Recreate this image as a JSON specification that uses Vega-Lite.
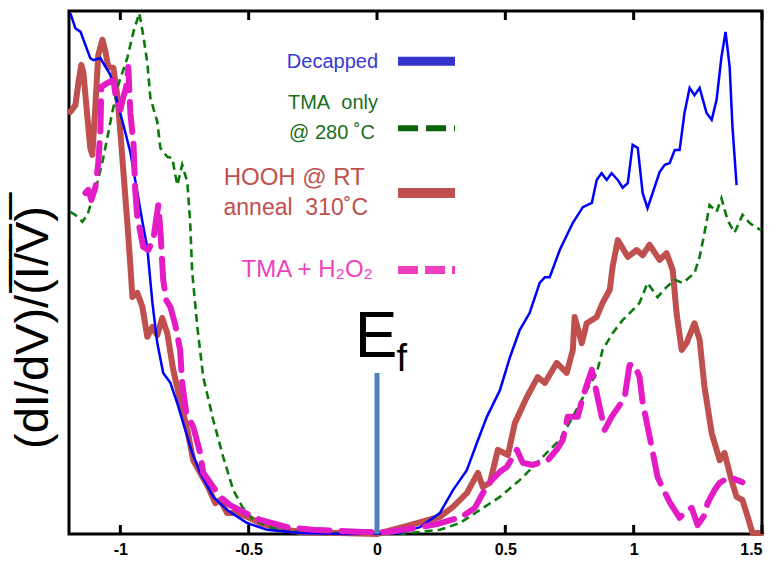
{
  "$schema": "https://vega.github.io/schema/vega-lite/v6.json",
  "width": 693,
  "height": 523,
  "autosize": {"type": "none"},
  "padding": {"left": 69, "top": 11, "right": 19, "bottom": 33},
  "background": "white",
  "config": {
    "view": {"stroke": "black", "strokeWidth": 3},
    "font": "Liberation Sans",
    "text": {"font": "Liberation Sans"}
  },
  "datasets": {
    "tickpos": [{"V": -1}, {"V": -0.5}, {"V": 0}, {"V": 0.5}, {"V": 1}, {"V": 1.5}],
    "decapped": [
      {"V": -1.195, "G": 99.6}, {"V": -1.175, "G": 96.7}, {"V": -1.155, "G": 96.0}, {"V": -1.117, "G": 91.0},
      {"V": -1.105, "G": 90.6}, {"V": -1.078, "G": 91.0}, {"V": -1.039, "G": 87.8}, {"V": -1.012, "G": 82.6},
      {"V": -0.988, "G": 78.2}, {"V": -0.961, "G": 73.0}, {"V": -0.934, "G": 65.4}, {"V": -0.914, "G": 59.7},
      {"V": -0.895, "G": 54.7}, {"V": -0.875, "G": 44.2}, {"V": -0.856, "G": 36.5}, {"V": -0.833, "G": 30.8},
      {"V": -0.805, "G": 28.9}, {"V": -0.778, "G": 25.0}, {"V": -0.755, "G": 21.2}, {"V": -0.72, "G": 15.5},
      {"V": -0.689, "G": 11.7}, {"V": -0.638, "G": 7.1}, {"V": -0.584, "G": 4.6}, {"V": -0.506, "G": 2.1},
      {"V": -0.428, "G": 0.8}, {"V": -0.3, "G": 0.2}, {"V": -0.105, "G": 0.0}, {"V": 0.089, "G": 0.2},
      {"V": 0.167, "G": 1.3}, {"V": 0.245, "G": 4.0}, {"V": 0.296, "G": 8.4}, {"V": 0.35, "G": 12.2},
      {"V": 0.389, "G": 17.4}, {"V": 0.428, "G": 22.4}, {"V": 0.479, "G": 27.5}, {"V": 0.518, "G": 33.8},
      {"V": 0.556, "G": 39.0}, {"V": 0.595, "G": 42.3}, {"V": 0.634, "G": 48.0}, {"V": 0.654, "G": 49.1},
      {"V": 0.673, "G": 49.1}, {"V": 0.712, "G": 54.3}, {"V": 0.763, "G": 59.5}, {"V": 0.802, "G": 62.5},
      {"V": 0.837, "G": 63.3}, {"V": 0.856, "G": 67.7}, {"V": 0.875, "G": 69.0}, {"V": 0.895, "G": 67.7},
      {"V": 0.914, "G": 69.0}, {"V": 0.938, "G": 67.7}, {"V": 0.957, "G": 66.2}, {"V": 0.977, "G": 67.1},
      {"V": 0.996, "G": 74.4}, {"V": 1.016, "G": 73.8}, {"V": 1.035, "G": 65.2}, {"V": 1.054, "G": 62.3},
      {"V": 1.074, "G": 65.2}, {"V": 1.101, "G": 69.2}, {"V": 1.121, "G": 70.6}, {"V": 1.14, "G": 70.9},
      {"V": 1.16, "G": 73.4}, {"V": 1.179, "G": 73.4}, {"V": 1.198, "G": 80.5}, {"V": 1.218, "G": 85.3},
      {"V": 1.237, "G": 83.9}, {"V": 1.257, "G": 85.3}, {"V": 1.284, "G": 80.5}, {"V": 1.304, "G": 79.2},
      {"V": 1.323, "G": 83.0}, {"V": 1.342, "G": 91.2}, {"V": 1.358, "G": 96.0}, {"V": 1.374, "G": 89.3},
      {"V": 1.385, "G": 77.8}, {"V": 1.401, "G": 66.7}
    ],
    "tma": [
      {"V": -1.195, "G": 61.6}, {"V": -1.175, "G": 61.0}, {"V": -1.148, "G": 59.7}, {"V": -1.128, "G": 61.0},
      {"V": -1.109, "G": 64.2}, {"V": -1.089, "G": 67.3}, {"V": -1.07, "G": 71.1}, {"V": -1.051, "G": 75.7},
      {"V": -1.031, "G": 80.7}, {"V": -1.008, "G": 85.9}, {"V": -0.973, "G": 91.0}, {"V": -0.949, "G": 96.0},
      {"V": -0.926, "G": 99.6}, {"V": -0.911, "G": 95.4}, {"V": -0.895, "G": 90.2}, {"V": -0.883, "G": 83.4},
      {"V": -0.856, "G": 78.8}, {"V": -0.844, "G": 73.8}, {"V": -0.817, "G": 72.1}, {"V": -0.798, "G": 71.9},
      {"V": -0.778, "G": 66.7}, {"V": -0.759, "G": 70.6}, {"V": -0.739, "G": 67.3}, {"V": -0.728, "G": 59.7},
      {"V": -0.72, "G": 50.1}, {"V": -0.7, "G": 39.6}, {"V": -0.677, "G": 30.0}, {"V": -0.638, "G": 21.8},
      {"V": -0.599, "G": 14.7}, {"V": -0.56, "G": 8.4}, {"V": -0.525, "G": 5.2}, {"V": -0.482, "G": 2.7},
      {"V": -0.405, "G": 1.1}, {"V": -0.222, "G": 0.2}, {"V": 0.089, "G": 0.0}, {"V": 0.245, "G": 0.8},
      {"V": 0.323, "G": 2.1}, {"V": 0.401, "G": 4.6}, {"V": 0.479, "G": 7.1}, {"V": 0.556, "G": 10.3},
      {"V": 0.607, "G": 12.8}, {"V": 0.661, "G": 15.5}, {"V": 0.712, "G": 18.0}, {"V": 0.763, "G": 22.4},
      {"V": 0.817, "G": 27.5}, {"V": 0.856, "G": 30.8}, {"V": 0.879, "G": 35.2}, {"V": 0.918, "G": 38.4},
      {"V": 0.957, "G": 40.9}, {"V": 0.996, "G": 42.8}, {"V": 1.023, "G": 44.2}, {"V": 1.054, "G": 48.0},
      {"V": 1.093, "G": 45.3}, {"V": 1.128, "G": 47.2}, {"V": 1.16, "G": 48.6}, {"V": 1.191, "G": 48.0},
      {"V": 1.237, "G": 49.9}, {"V": 1.257, "G": 53.0}, {"V": 1.276, "G": 57.6}, {"V": 1.296, "G": 62.9},
      {"V": 1.323, "G": 61.6}, {"V": 1.342, "G": 64.2}, {"V": 1.366, "G": 60.0}, {"V": 1.393, "G": 57.6},
      {"V": 1.424, "G": 61.0}, {"V": 1.451, "G": 59.5}, {"V": 1.479, "G": 58.5}, {"V": 1.498, "G": 58.1}
    ],
    "hooh": [
      {"V": -1.195, "G": 80.7}, {"V": -1.175, "G": 82.0}, {"V": -1.163, "G": 86.4}, {"V": -1.152, "G": 89.7},
      {"V": -1.144, "G": 88.3}, {"V": -1.128, "G": 79.5}, {"V": -1.117, "G": 73.8}, {"V": -1.109, "G": 72.5},
      {"V": -1.105, "G": 75.7}, {"V": -1.097, "G": 82.0}, {"V": -1.086, "G": 91.6}, {"V": -1.07, "G": 94.5},
      {"V": -1.058, "G": 92.2}, {"V": -1.047, "G": 89.3}, {"V": -1.027, "G": 89.1}, {"V": -1.012, "G": 83.9},
      {"V": -1.0, "G": 76.9}, {"V": -0.988, "G": 69.2}, {"V": -0.973, "G": 59.7}, {"V": -0.961, "G": 51.4},
      {"V": -0.953, "G": 45.3}, {"V": -0.934, "G": 46.1}, {"V": -0.914, "G": 43.4}, {"V": -0.895, "G": 37.7},
      {"V": -0.875, "G": 39.6}, {"V": -0.856, "G": 38.0}, {"V": -0.837, "G": 41.3}, {"V": -0.817, "G": 38.4},
      {"V": -0.794, "G": 31.4}, {"V": -0.767, "G": 25.6}, {"V": -0.739, "G": 19.9}, {"V": -0.716, "G": 14.1},
      {"V": -0.689, "G": 11.7}, {"V": -0.658, "G": 9.0}, {"V": -0.63, "G": 5.9}, {"V": -0.611, "G": 6.5},
      {"V": -0.584, "G": 4.0}, {"V": -0.545, "G": 4.0}, {"V": -0.506, "G": 3.3}, {"V": -0.455, "G": 2.1},
      {"V": -0.389, "G": 1.1}, {"V": -0.3, "G": 0.4}, {"V": 0.0, "G": 0.0}, {"V": 0.128, "G": 1.7},
      {"V": 0.245, "G": 3.3}, {"V": 0.296, "G": 5.2}, {"V": 0.35, "G": 7.8}, {"V": 0.393, "G": 11.7},
      {"V": 0.412, "G": 9.0}, {"V": 0.44, "G": 9.8}, {"V": 0.471, "G": 16.1}, {"V": 0.51, "G": 15.1},
      {"V": 0.537, "G": 21.2}, {"V": 0.584, "G": 26.2}, {"V": 0.626, "G": 30.0}, {"V": 0.654, "G": 28.9},
      {"V": 0.7, "G": 32.7}, {"V": 0.739, "G": 30.8}, {"V": 0.763, "G": 35.2}, {"V": 0.77, "G": 41.5},
      {"V": 0.798, "G": 36.5}, {"V": 0.817, "G": 40.3}, {"V": 0.856, "G": 41.5}, {"V": 0.879, "G": 44.2},
      {"V": 0.907, "G": 46.7}, {"V": 0.918, "G": 51.1}, {"V": 0.938, "G": 56.2}, {"V": 0.977, "G": 53.0},
      {"V": 1.012, "G": 54.3}, {"V": 1.035, "G": 53.3}, {"V": 1.062, "G": 55.3}, {"V": 1.101, "G": 52.4},
      {"V": 1.128, "G": 53.7}, {"V": 1.152, "G": 50.5}, {"V": 1.167, "G": 42.3}, {"V": 1.187, "G": 35.2},
      {"V": 1.206, "G": 36.5}, {"V": 1.237, "G": 40.3}, {"V": 1.257, "G": 37.1}, {"V": 1.276, "G": 28.1},
      {"V": 1.304, "G": 19.3}, {"V": 1.335, "G": 14.1}, {"V": 1.354, "G": 15.5}, {"V": 1.381, "G": 10.3},
      {"V": 1.401, "G": 7.1}, {"V": 1.424, "G": 6.5}, {"V": 1.444, "G": 3.3}, {"V": 1.463, "G": 0.2},
      {"V": 1.498, "G": 0.2}
    ],
    "tmah2o2": [
      {"V": -1.136, "G": 65.2}, {"V": -1.125, "G": 65.8}, {"V": -1.113, "G": 63.9}, {"V": -1.097, "G": 66.3},
      {"V": -1.086, "G": 70.9}, {"V": -1.078, "G": 76.7}, {"V": -1.074, "G": 85.5}, {"V": -1.051, "G": 86.2},
      {"V": -1.027, "G": 86.8}, {"V": -1.016, "G": 83.0}, {"V": -1.0, "G": 81.1}, {"V": -0.988, "G": 83.6},
      {"V": -0.977, "G": 85.5}, {"V": -0.969, "G": 89.3}, {"V": -0.961, "G": 80.5}, {"V": -0.949, "G": 74.8},
      {"V": -0.942, "G": 65.8}, {"V": -0.934, "G": 60.6}, {"V": -0.911, "G": 54.9}, {"V": -0.891, "G": 54.3},
      {"V": -0.872, "G": 56.2}, {"V": -0.852, "G": 62.9}, {"V": -0.844, "G": 58.1}, {"V": -0.833, "G": 48.6},
      {"V": -0.821, "G": 44.7}, {"V": -0.805, "G": 43.4}, {"V": -0.786, "G": 40.0}, {"V": -0.767, "G": 35.2},
      {"V": -0.759, "G": 28.9}, {"V": -0.743, "G": 23.1}, {"V": -0.716, "G": 20.5}, {"V": -0.689, "G": 15.5},
      {"V": -0.677, "G": 11.7}, {"V": -0.638, "G": 9.0}, {"V": -0.611, "G": 7.1}, {"V": -0.572, "G": 5.5},
      {"V": -0.521, "G": 4.2}, {"V": -0.455, "G": 2.7}, {"V": -0.35, "G": 1.3}, {"V": -0.249, "G": 0.8},
      {"V": -0.144, "G": 0.6}, {"V": -0.054, "G": 0.4}, {"V": 0.043, "G": 0.4}, {"V": 0.167, "G": 1.3},
      {"V": 0.233, "G": 1.9}, {"V": 0.331, "G": 3.3}, {"V": 0.381, "G": 5.0}, {"V": 0.412, "G": 7.8},
      {"V": 0.447, "G": 10.3}, {"V": 0.479, "G": 11.9}, {"V": 0.506, "G": 12.8}, {"V": 0.545, "G": 16.1},
      {"V": 0.568, "G": 13.6}, {"V": 0.607, "G": 13.2}, {"V": 0.665, "G": 14.1}, {"V": 0.7, "G": 16.1},
      {"V": 0.724, "G": 18.0}, {"V": 0.743, "G": 22.4}, {"V": 0.782, "G": 22.4}, {"V": 0.802, "G": 26.2},
      {"V": 0.837, "G": 31.4}, {"V": 0.86, "G": 26.0}, {"V": 0.887, "G": 19.9}, {"V": 0.914, "G": 22.4},
      {"V": 0.946, "G": 24.7}, {"V": 0.965, "G": 26.2}, {"V": 0.984, "G": 32.3}, {"V": 1.004, "G": 32.3},
      {"V": 1.023, "G": 30.0}, {"V": 1.035, "G": 25.2}, {"V": 1.074, "G": 15.7}, {"V": 1.093, "G": 10.9},
      {"V": 1.121, "G": 8.0}, {"V": 1.14, "G": 6.1}, {"V": 1.179, "G": 3.1}, {"V": 1.202, "G": 4.2},
      {"V": 1.226, "G": 5.0}, {"V": 1.249, "G": 1.7}, {"V": 1.276, "G": 3.6}, {"V": 1.288, "G": 5.9},
      {"V": 1.315, "G": 8.4}, {"V": 1.335, "G": 9.8}, {"V": 1.374, "G": 10.9}, {"V": 1.424, "G": 9.9}
    ]
  },
  "layer": [
    {
      "data": {"name": "hooh"},
      "mark": {"type": "line", "color": "#c0504d", "strokeWidth": 6, "strokeJoin": "round", "strokeCap": "round"},
      "encoding": {
        "x": {"field": "V", "type": "quantitative", "scale": {"domain": [-1.2, 1.5], "nice": false, "zero": false},
          "axis": {"orient": "bottom", "values": [-1, -0.5, 0, 0.5, 1, 1.5], "labelExpr": "toString(datum.value)",
            "domain": false, "grid": false, "title": null, "ticks": false,
            "labelFont": "Liberation Sans", "labelFontWeight": "bold", "labelFontSize": 16, "labelColor": "black", "labelPadding": 7}},
        "y": {"field": "G", "type": "quantitative", "scale": {"domain": [0, 100], "nice": false},
          "axis": {"orient": "left", "labels": false, "ticks": false, "domain": false, "grid": false,
            "title": "(dI/dV)/(\u0305I\u0305/\u0305V\u0305)\u0305", "titleFont": "Liberation Sans", "titleFontSize": 47,
            "titleFontWeight": "normal", "titleColor": "black", "titleAngle": -90, "titleX": -36, "titleY": 316,
            "titleAlign": "center", "titleBaseline": "middle"}}
      }
    },
    {
      "data": {"name": "tma"},
      "mark": {"type": "line", "color": "#0a7a0a", "strokeWidth": 2.6, "strokeDash": [8, 5]},
      "encoding": {
        "x": {"field": "V", "type": "quantitative", "axis": null},
        "y": {"field": "G", "type": "quantitative"}
      }
    },
    {
      "data": {"name": "decapped"},
      "mark": {"type": "line", "color": "#0000ff", "strokeWidth": 2.5},
      "encoding": {
        "x": {"field": "V", "type": "quantitative", "axis": null},
        "y": {"field": "G", "type": "quantitative"}
      }
    },
    {
      "data": {"name": "tmah2o2"},
      "mark": {"type": "line", "color": "#e31cc6", "strokeWidth": 6, "strokeDash": [30, 12], "strokeCap": "round", "strokeJoin": "round"},
      "encoding": {
        "x": {"field": "V", "type": "quantitative", "axis": null},
        "y": {"field": "G", "type": "quantitative"}
      }
    },
    {
      "data": {"name": "tickpos"},
      "mark": {"type": "tick", "orient": "vertical", "color": "black", "size": 9, "thickness": 3, "opacity": 1},
      "encoding": {"x": {"field": "V", "type": "quantitative", "axis": null}, "y": {"datum": 0.86}}
    },
    {
      "data": {"name": "tickpos"},
      "mark": {"type": "tick", "orient": "vertical", "color": "black", "size": 9, "thickness": 3, "opacity": 1},
      "encoding": {"x": {"field": "V", "type": "quantitative", "axis": null}, "y": {"datum": 99.14}}
    },
    {
      "data": {"values": [{}]},
      "mark": {"type": "rule", "color": "#4f81bd", "strokeWidth": 5},
      "encoding": {"x": {"datum": 0, "axis": null}, "y": {"datum": 0}, "y2": {"datum": 30.8}}
    },
    {
      "data": {"values": [{}]},
      "mark": {"type": "text", "fontSize": 64, "align": "center", "baseline": "alphabetic", "color": "black"},
      "encoding": {"x": {"datum": -0.004, "axis": null}, "y": {"datum": 33.8}, "text": {"value": "E"}}
    },
    {
      "data": {"values": [{}]},
      "mark": {"type": "text", "fontSize": 38, "align": "center", "baseline": "alphabetic", "color": "black"},
      "encoding": {"x": {"datum": 0.097, "axis": null}, "y": {"datum": 31.2}, "text": {"value": "f"}}
    },
    {
      "data": {"values": [{}]},
      "mark": {"type": "text", "fontSize": 20, "align": "right", "baseline": "middle", "color": "#3838d4"},
      "encoding": {"x": {"datum": 0.004, "axis": null}, "y": {"datum": 90.2}, "text": {"value": "Decapped"}}
    },
    {
      "data": {"values": [{}]},
      "mark": {"type": "text", "fontSize": 20, "align": "right", "baseline": "middle", "color": "#1b6e1b"},
      "encoding": {"x": {"datum": 0.004, "axis": null}, "y": {"datum": 82.4}, "text": {"value": "TMA\u00a0\u00a0only"}}
    },
    {
      "data": {"values": [{}]},
      "mark": {"type": "text", "fontSize": 20, "align": "right", "baseline": "middle", "color": "#1b6e1b"},
      "encoding": {"x": {"datum": -0.008, "axis": null}, "y": {"datum": 76.7}, "text": {"value": "@ 280 ˚C"}}
    },
    {
      "data": {"values": [{}]},
      "mark": {"type": "text", "fontSize": 24, "align": "right", "baseline": "middle", "color": "#c0504d"},
      "encoding": {"x": {"datum": -0.047, "axis": null}, "y": {"datum": 68.1}, "text": {"value": "HOOH @ RT"}}
    },
    {
      "data": {"values": [{}]},
      "mark": {"type": "text", "fontSize": 23, "align": "right", "baseline": "middle", "color": "#c0504d"},
      "encoding": {"x": {"datum": -0.035, "axis": null}, "y": {"datum": 62.3}, "text": {"value": "anneal\u00a0\u00a0310˚C"}}
    },
    {
      "data": {"values": [{}]},
      "mark": {"type": "text", "fontSize": 24, "align": "right", "baseline": "middle", "color": "#ef3fbf"},
      "encoding": {"x": {"datum": -0.016, "axis": null}, "y": {"datum": 50.5}, "text": {"value": "TMA + H₂O₂"}}
    },
    {
      "data": {"values": [{}]},
      "mark": {"type": "rule", "color": "#3333cc", "strokeWidth": 9},
      "encoding": {"x": {"datum": 0.082, "axis": null}, "x2": {"datum": 0.304}, "y": {"datum": 90.4}}
    },
    {
      "data": {"values": [{}]},
      "mark": {"type": "rule", "color": "#0a640a", "strokeWidth": 6, "strokeDash": [20, 8]},
      "encoding": {"x": {"datum": 0.082, "axis": null}, "x2": {"datum": 0.304}, "y": {"datum": 77.6}}
    },
    {
      "data": {"values": [{}]},
      "mark": {"type": "rule", "color": "#c0504d", "strokeWidth": 10},
      "encoding": {"x": {"datum": 0.082, "axis": null}, "x2": {"datum": 0.304}, "y": {"datum": 65.2}}
    },
    {
      "data": {"values": [{}]},
      "mark": {"type": "rule", "color": "#ef3fbf", "strokeWidth": 8, "strokeDash": [20, 7]},
      "encoding": {"x": {"datum": 0.082, "axis": null}, "x2": {"datum": 0.304}, "y": {"datum": 50.5}}
    }
  ],
  "resolve": {"axis": {"x": "independent"}}
}
